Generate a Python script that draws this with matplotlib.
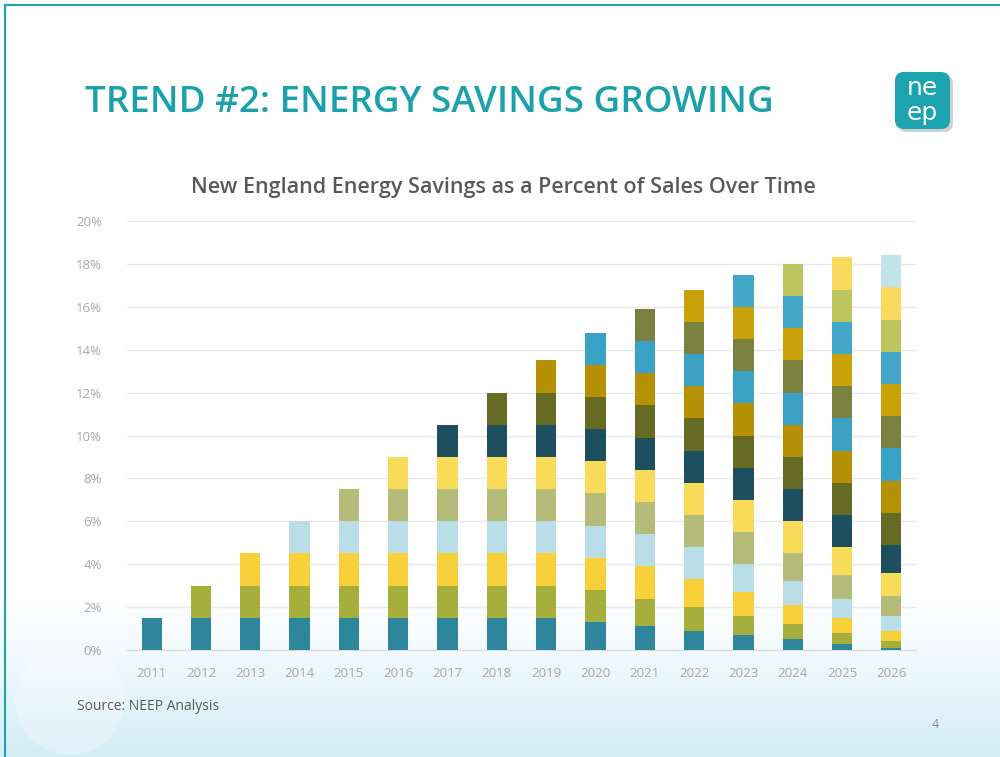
import matplotlib
matplotlib.use("Agg")
import matplotlib.pyplot as plt
import numpy as np
from matplotlib.patches import FancyBboxPatch, Circle

years = ["2011", "2012", "2013", "2014", "2015", "2016", "2017", "2018",
         "2019", "2020", "2021", "2022", "2023", "2024", "2025", "2026"]

# savings (% of sales) contributed by each program-year cohort, per year shown
cohort_2011 = [1.5, 1.5, 1.5, 1.5, 1.5, 1.5, 1.5, 1.5, 1.5, 1.3, 1.1, 0.9, 0.7, 0.5, 0.3, 0.1]
cohort_2012 = [0, 1.5, 1.5, 1.5, 1.5, 1.5, 1.5, 1.5, 1.5, 1.5, 1.3, 1.1, 0.9, 0.7, 0.5, 0.3]
cohort_2013 = [0, 0, 1.5, 1.5, 1.5, 1.5, 1.5, 1.5, 1.5, 1.5, 1.5, 1.3, 1.1, 0.9, 0.7, 0.5]
cohort_2014 = [0, 0, 0, 1.5, 1.5, 1.5, 1.5, 1.5, 1.5, 1.5, 1.5, 1.5, 1.3, 1.1, 0.9, 0.7]
cohort_2015 = [0, 0, 0, 0, 1.5, 1.5, 1.5, 1.5, 1.5, 1.5, 1.5, 1.5, 1.5, 1.3, 1.1, 0.9]
cohort_2016 = [0, 0, 0, 0, 0, 1.5, 1.5, 1.5, 1.5, 1.5, 1.5, 1.5, 1.5, 1.5, 1.3, 1.1]
cohort_2017 = [0, 0, 0, 0, 0, 0, 1.5, 1.5, 1.5, 1.5, 1.5, 1.5, 1.5, 1.5, 1.5, 1.3]
cohort_2018 = [0, 0, 0, 0, 0, 0, 0, 1.5, 1.5, 1.5, 1.5, 1.5, 1.5, 1.5, 1.5, 1.5]
cohort_2019 = [0, 0, 0, 0, 0, 0, 0, 0, 1.5, 1.5, 1.5, 1.5, 1.5, 1.5, 1.5, 1.5]
cohort_2020 = [0, 0, 0, 0, 0, 0, 0, 0, 0, 1.5, 1.5, 1.5, 1.5, 1.5, 1.5, 1.5]
cohort_2021 = [0, 0, 0, 0, 0, 0, 0, 0, 0, 0, 1.5, 1.5, 1.5, 1.5, 1.5, 1.5]
cohort_2022 = [0, 0, 0, 0, 0, 0, 0, 0, 0, 0, 0, 1.5, 1.5, 1.5, 1.5, 1.5]
cohort_2023 = [0, 0, 0, 0, 0, 0, 0, 0, 0, 0, 0, 0, 1.5, 1.5, 1.5, 1.5]
cohort_2024 = [0, 0, 0, 0, 0, 0, 0, 0, 0, 0, 0, 0, 0, 1.5, 1.5, 1.5]
cohort_2025 = [0, 0, 0, 0, 0, 0, 0, 0, 0, 0, 0, 0, 0, 0, 1.5, 1.5]
cohort_2026 = [0, 0, 0, 0, 0, 0, 0, 0, 0, 0, 0, 0, 0, 0, 0, 1.5]

cohorts = [cohort_2011, cohort_2012, cohort_2013, cohort_2014, cohort_2015,
           cohort_2016, cohort_2017, cohort_2018, cohort_2019, cohort_2020,
           cohort_2021, cohort_2022, cohort_2023, cohort_2024, cohort_2025,
           cohort_2026]
colors = ["#2E869C", "#A6AF3C", "#F8D03A", "#B9DEE8", "#B5BC7A", "#F9DB5A",
          "#1E4F5E", "#666B24", "#B79105", "#3AA2C4", "#7B813F", "#C8A208",
          "#43A7C8", "#BDC55E", "#F9DA5E", "#C2E3EB"]

ytick_vals = [0, 2, 4, 6, 8, 10, 12, 14, 16, 18, 20]

fig = plt.figure(figsize=(10, 7.57), dpi=100)
fig.patch.set_facecolor("white")

# background gradient / decoration
bg = fig.add_axes([0, 0, 1, 1], zorder=-10)
bg.set_xlim(0, 1000)
bg.set_ylim(757, 0)
bg.axis("off")
grad = np.linspace(0, 1, 200).reshape(-1, 1) ** 1.2
top = np.array([1.0, 1.0, 1.0])
bot = np.array([0xD3, 0xEC, 0xF6]) / 255.0
img = top[None, None, :] * (1 - grad[:, :, None]) + bot[None, None, :] * grad[:, :, None]
bg.imshow(img, extent=[0, 1000, 757, 590], aspect="auto", zorder=0)
bg.add_patch(Circle((70, 700), 55, facecolor="white", alpha=0.25, edgecolor="none", zorder=1))
# slide border
bg.plot([5, 1000], [5, 5], color="#1BA3B0", lw=1.5, zorder=2)
bg.plot([5, 5], [5, 757], color="#1BA3B0", lw=1.5, zorder=2)

# logo
bg.add_patch(FancyBboxPatch((898, 75), 55, 57, boxstyle="round,pad=0,rounding_size=9",
                            facecolor="#9aa6a8", edgecolor="none", alpha=0.5, zorder=2))
bg.add_patch(FancyBboxPatch((895, 72), 55, 57, boxstyle="round,pad=0,rounding_size=9",
                            facecolor="#1BA3B0", edgecolor="none", zorder=3))
bg.text(922, 88, "ne", color="white", fontsize=18, ha="center", va="center",
        family="DejaVu Sans", zorder=4)
bg.text(922, 113, "ep", color="white", fontsize=18, ha="center", va="center",
        family="DejaVu Sans", zorder=4)

# titles
fig.text(0.085, 1 - 103 / 757, "TREND #2: ENERGY SAVINGS GROWING", color="#1BA1AA",
         fontsize=26.5, fontweight="semibold", family="Open Sans", ha="left", va="center")
fig.text(0.503, 1 - 188 / 757, "New England Energy Savings as a Percent of Sales Over Time",
         color="#595959", fontsize=15.5, fontweight="semibold", family="Open Sans",
         ha="center", va="center")
fig.text(0.077, 1 - 707 / 757, "Source: NEEP Analysis", color="#595959",
         fontsize=10, family="Open Sans", ha="left", va="center")
fig.text(0.935, 1 - 725 / 757, "4", color="#8C8C8C", fontsize=9,
         family="Open Sans", ha="center", va="center")

# chart
ax = fig.add_axes([0.127, 1 - 650 / 757, 0.789, 429 / 757])
ax.set_facecolor("none")
x = np.arange(len(years))
bottom = np.zeros(len(years))
for vals, c in zip(cohorts, colors):
    v = np.array(vals, dtype=float)
    ax.bar(x, v, bottom=bottom, width=0.41, color=c, edgecolor="none", zorder=3)
    bottom += v

ax.set_xlim(-0.5, len(years) - 0.5)
ax.set_ylim(0, 20)
ax.set_yticks(ytick_vals)
ax.set_yticklabels([f"{v}%" for v in ytick_vals])
ax.set_xticks(x)
ax.set_xticklabels(years)
ax.grid(axis="y", color="#E8E8E8", lw=1, zorder=0)
for s in ax.spines.values():
    s.set_visible(False)
ax.spines["bottom"].set_visible(True)
ax.spines["bottom"].set_color("#D9D9D9")
ax.tick_params(axis="both", length=0, colors="#A6A6A6", labelsize=9.5)
ax.tick_params(axis="y", pad=18)
ax.tick_params(axis="x", pad=12)
for t in ax.get_xticklabels() + ax.get_yticklabels():
    t.set_family("Open Sans")

fig.savefig("out.png", dpi=100, facecolor=fig.get_facecolor())
